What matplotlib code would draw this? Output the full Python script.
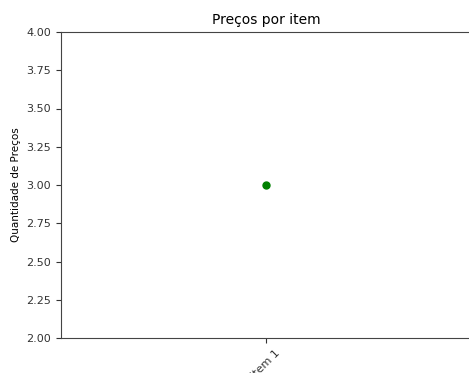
import matplotlib.pyplot as plt

# dados
itens = ['Item 1']
precos = [3]

fig = plt.figure(figsize=(4.69, 3.73), dpi=100)
ax = fig.add_axes([61 / 469, 35 / 373, 430 / 469, 306 / 373])

ax.plot(itens, precos, 'o', color='green', markersize=5)

# ponto em x=266 px, spine direita fora da imagem
frac = (266 - 61) / 430
ax.set_xlim(-frac, 1 - frac)
ax.set_ylim(2, 4)
ax.set_yticks([2.0, 2.25, 2.5, 2.75, 3.0, 3.25, 3.5, 3.75, 4.0])
ax.set_yticklabels(['2.00', '2.25', '2.50', '2.75', '3.00', '3.25', '3.50', '3.75', '4.00'])
ax.tick_params(labelsize=8, length=3.5, colors='#333333')
for s in ax.spines.values():
    s.set_color('#444444')
plt.setp(ax.get_xticklabels(), rotation=45)

ax.set_title('Preços por item', fontsize=10, x=(266 - 61) / 430)
ax.set_ylabel('Quantidade de Preços', fontsize=7.5)

fig.savefig('out.png', dpi=100)
